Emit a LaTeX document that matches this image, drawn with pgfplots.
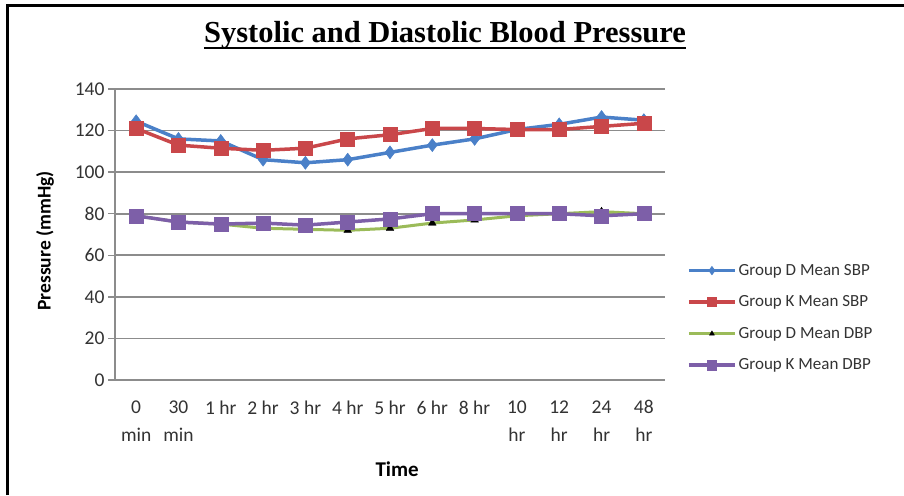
\documentclass[border=0pt]{standalone}
\usepackage{fontspec}
\setmainfont{Carlito}
\newfontfamily\titlefont{Liberation Serif}
\usepackage{pgfplots}
\pgfplotsset{compat=1.18}
\definecolor{cblue}{HTML}{4A80C8}
\definecolor{cred}{HTML}{C9474A}
\definecolor{cgreen}{HTML}{9BBB59}
\definecolor{cpurple}{HTML}{7D5FA8}
\definecolor{cgrid}{HTML}{8C8C8C}
\begin{document}
\begin{tikzpicture}[x=1pt,y=1pt]
\useasboundingbox[fill=white] (0,0) rectangle (904,495);
\draw[line width=3pt] (7,0) -- (7,489) -- (904,489);
\node[font=\titlefont\bfseries\fontsize{30.5}{34}\selectfont, anchor=base, inner sep=0pt] (t) at (445,452) {Systolic and Diastolic Blood Pressure};
\draw[line width=2.2pt] ([yshift=-5pt]t.base west) -- ([yshift=-5pt]t.base east);
\begin{axis}[
  at={(115pt,115pt)}, anchor=south west,
  scale only axis, width=550pt, height=291pt,
  xmin=-0.5, xmax=12.5, ymin=0, ymax=140,
  ytick={0,20,...,140},
  xtick={0,...,12},
  xticklabels={{0\\min},{30\\min},{1 hr},{2 hr},{3 hr},{4 hr},{5 hr},{6 hr},{8 hr},{10\\hr},{12\\hr},{24\\hr},{48\\hr}},
  xticklabel style={align=center, font=\fontsize{19.5}{28}\selectfont, text=black!80, yshift=-10pt},
  yticklabel style={font=\fontsize{19.5}{22}\selectfont, text=black!80},
  /pgf/number format/assume math mode=true,
  axis x line*=bottom, axis y line*=left,
  axis line style={-, draw=cgrid, line width=1.5pt},
  ymajorgrids, grid style={draw=cgrid, line width=1.6pt},
  xtick style={draw=none},
  ytick style={draw=cgrid, line width=1.5pt},
  major tick length=7pt, tick align=outside,
  xlabel={\bfseries Time},
  ylabel={\bfseries Pressure (mmHg)},
  xlabel style={font=\fontsize{21}{24}\selectfont, at={(axis description cs:0.513,-0.306)}, anchor=center},
  ylabel style={font=\fontsize{19.5}{24}\selectfont, at={(axis description cs:-0.127,0.478)}, anchor=center},
  legend style={at={(1.04,0.405)}, anchor=north west, draw=none, fill=none,
    font=\fontsize{17}{20}\selectfont, text=black!80, row sep=15pt, inner sep=0pt},
  legend cell align=left,
  legend image code/.code={\draw[mark repeat=2,mark phase=2, every mark/.append style={scale=0.65}] plot coordinates {(0pt,0pt)(23pt,0pt)(46pt,0pt)};},
]
\addplot[cblue, line width=3.5pt, mark=diamond*, mark size=6.5pt, mark options={line width=0.5pt}] coordinates {
(0,124.5)(1,116)(2,115)(3,106)(4,104.5)(5,106)(6,109.5)(7,113)(8,116)(9,120.5)(10,123)(11,126.5)(12,125)};
\addlegendentry{Group D Mean SBP}
\addplot[cred, line width=3.5pt, mark=square*, mark size=7pt, mark options={line width=0.5pt}] coordinates {
(0,121)(1,113)(2,111.5)(3,110.5)(4,111.5)(5,116)(6,118)(7,121)(8,121)(9,120.5)(10,120.5)(11,122)(12,123.5)};
\addlegendentry{Group K Mean SBP}
\addplot[cgreen, line width=3pt, mark=triangle*, mark size=4.5pt, mark options={fill=black, draw=black, line width=0.3pt}] coordinates {
(0,79)(1,76)(2,75)(3,73)(4,72.5)(5,72)(6,73)(7,75.5)(8,77)(9,79)(10,80)(11,81)(12,80)};
\addlegendentry{Group D Mean DBP}
\addplot[cpurple, line width=3.5pt, mark=square*, mark size=7pt, mark options={line width=0.5pt}] coordinates {
(0,79)(1,76)(2,75)(3,75.5)(4,74.5)(5,76)(6,77.5)(7,80)(8,80)(9,80)(10,80)(11,79)(12,80)};
\addlegendentry{Group K Mean DBP}
\end{axis}
\end{tikzpicture}
\end{document}
